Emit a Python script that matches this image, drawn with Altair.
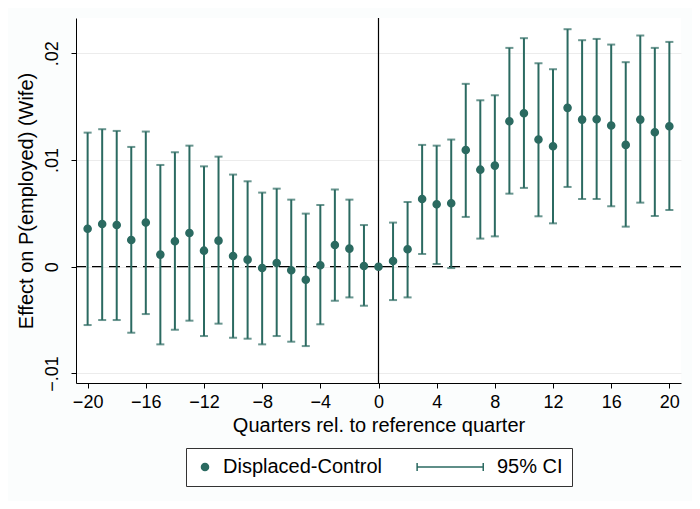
import altair as alt
import pandas as pd

quarters = list(range(-20, 21))
estimate = [0.00356, 0.0040, 0.0039, 0.0025, 0.00413, 0.00113, 0.00238, 0.00316, 0.0015, 0.00244,
            0.0010, 0.00066, -0.00013, 0.00034, -0.00034, -0.00122, 0.00013, 0.00203, 0.00169, 0.00006,
            0.0,
            0.00053, 0.00163, 0.00634, 0.00584, 0.00594, 0.01094, 0.00909, 0.00947, 0.01363, 0.01438,
            0.01191, 0.01128, 0.01488, 0.01378, 0.01381, 0.01322, 0.01141, 0.01378, 0.01259, 0.01316]
ci_high = [0.01256, 0.01288, 0.01272, 0.01122, 0.01266, 0.00953, 0.01072, 0.01134, 0.0094, 0.01031,
           0.00863, 0.0080, 0.00694, 0.00731, 0.00628, 0.00497, 0.00578, 0.00722, 0.00628, 0.0039,
           None,
           0.00413, 0.00606, 0.01141, 0.01134, 0.01191, 0.01713, 0.01559, 0.01606, 0.0205, 0.02141,
           0.01906, 0.0185, 0.02225, 0.02122, 0.02134, 0.02081, 0.01916, 0.02166, 0.0205, 0.02106]
ci_low = [-0.00547, -0.0050, -0.0050, -0.00619, -0.00444, -0.00728, -0.00591, -0.00506, -0.0065, -0.00534,
          -0.00666, -0.00675, -0.00728, -0.0065, -0.00703, -0.00744, -0.0054, -0.00319, -0.00288, -0.00366,
          None,
          -0.00313, -0.00288, 0.00119, 0.00025, -0.00013, 0.00466, 0.00263, 0.00284, 0.00684, 0.00738,
          0.00472, 0.00406, 0.00747, 0.00634, 0.00634, 0.00566, 0.00375, 0.006, 0.00475, 0.00531]

y_ticks = [-0.01, 0.0, 0.01, 0.02]
x_ticks = list(range(-20, 21, 4))
series_names = ["Displaced-Control", "95% CI"]

TEAL = "#2b6a61"
FONT = "Liberation Sans"

df = pd.DataFrame({"q": quarters, "est": estimate, "hi": ci_high, "lo": ci_low})
df["series"] = series_names[0]
ci_df = df.dropna().copy()

xscale = alt.Scale(domain=[-20.8, 20.8], nice=False, zero=False)
yscale = alt.Scale(domain=[-0.0109, 0.0233], nice=False, zero=False)

xaxis = alt.Axis(values=x_ticks, title="Quarters rel. to reference quarter", grid=False,
                 labelFontSize=18, titleFontSize=20, tickSize=5, labelPadding=5, titlePadding=4,
                 domainColor="black", tickColor="black", labelColor="black", titleColor="black",
                 titleFontWeight="normal", labelFont=FONT, titleFont=FONT)
yaxis = alt.Axis(values=y_ticks, title="Effect on P(employed) (Wife)", grid=True, gridColor="#ececec",
                 labelExpr="datum.value == 0 ? '0' : replace(format(datum.value, '.2f'), '0.', '.')",
                 labelAngle=-90, labelAlign="center", labelBaseline="bottom",
                 labelFontSize=18, titleFontSize=20, tickSize=5, labelPadding=10, titlePadding=7,
                 domainColor="black", tickColor="black", labelColor="black", titleColor="black",
                 titleFontWeight="normal", labelFont=FONT, titleFont=FONT)

base = alt.Chart(df)

zero_line = alt.Chart(pd.DataFrame({"y": [0.0]})).mark_rule(
    color="black", strokeDash=[11, 6], strokeWidth=1.2
).encode(y=alt.Y("y:Q", scale=yscale, axis=yaxis))

vline = alt.Chart(pd.DataFrame({"x": [0]})).mark_rule(color="black", strokeWidth=1.2).encode(
    x=alt.X("x:Q", scale=xscale, axis=xaxis)
)

bars = alt.Chart(ci_df).mark_rule(color=TEAL, strokeWidth=2).encode(
    x=alt.X("q:Q", scale=xscale, axis=xaxis),
    y=alt.Y("lo:Q", scale=yscale, axis=yaxis),
    y2="hi:Q",
)
cap_hi = alt.Chart(ci_df).mark_tick(color=TEAL, orient="horizontal", size=8, thickness=2).encode(
    x=alt.X("q:Q", scale=xscale), y=alt.Y("hi:Q", scale=yscale)
)
cap_lo = alt.Chart(ci_df).mark_tick(color=TEAL, orient="horizontal", size=8, thickness=2).encode(
    x=alt.X("q:Q", scale=xscale), y=alt.Y("lo:Q", scale=yscale)
)

ci_path = "M-17.5,0L1.2,0M-17.5,-1.1L-17.5,1.1M1.2,-1.1L1.2,1.1"
legend = alt.Legend(title=None, orient="none", legendX=110, legendY=430, direction="horizontal",
                    strokeColor="#333333", fillColor="white", padding=9, labelFontSize=20,
                    labelFont=FONT, labelColor="black", symbolSize=50, columnPadding=32,
                    labelOffset=8, symbolOpacity=1, symbolStrokeWidth=1.5)

pal = alt.Scale(domain=series_names, range=[TEAL, TEAL])
points = base.mark_point(filled=False, opacity=1, size=50, strokeWidth=1.5).encode(
    x=alt.X("q:Q", scale=xscale, axis=xaxis),
    y=alt.Y("est:Q", scale=yscale, axis=yaxis),
    fill=alt.Fill("series:N", scale=pal, legend=legend),
    stroke=alt.Stroke("series:N", scale=pal, legend=legend),
    shape=alt.Shape("series:N", scale=alt.Scale(domain=series_names, range=["circle", ci_path]), legend=legend),
)

chart = alt.layer(zero_line, vline, bars, cap_hi, cap_lo, points).properties(
    width=605, height=365,
    autosize=alt.AutoSizeParams(type="none"),
    padding={"left": 68, "top": 10, "right": 11, "bottom": 118},
    background="#fbfdfd",
).configure_view(stroke=None, fill="white")

chart.save("out.html", embed_options={"renderer": "svg", "actions": False})
